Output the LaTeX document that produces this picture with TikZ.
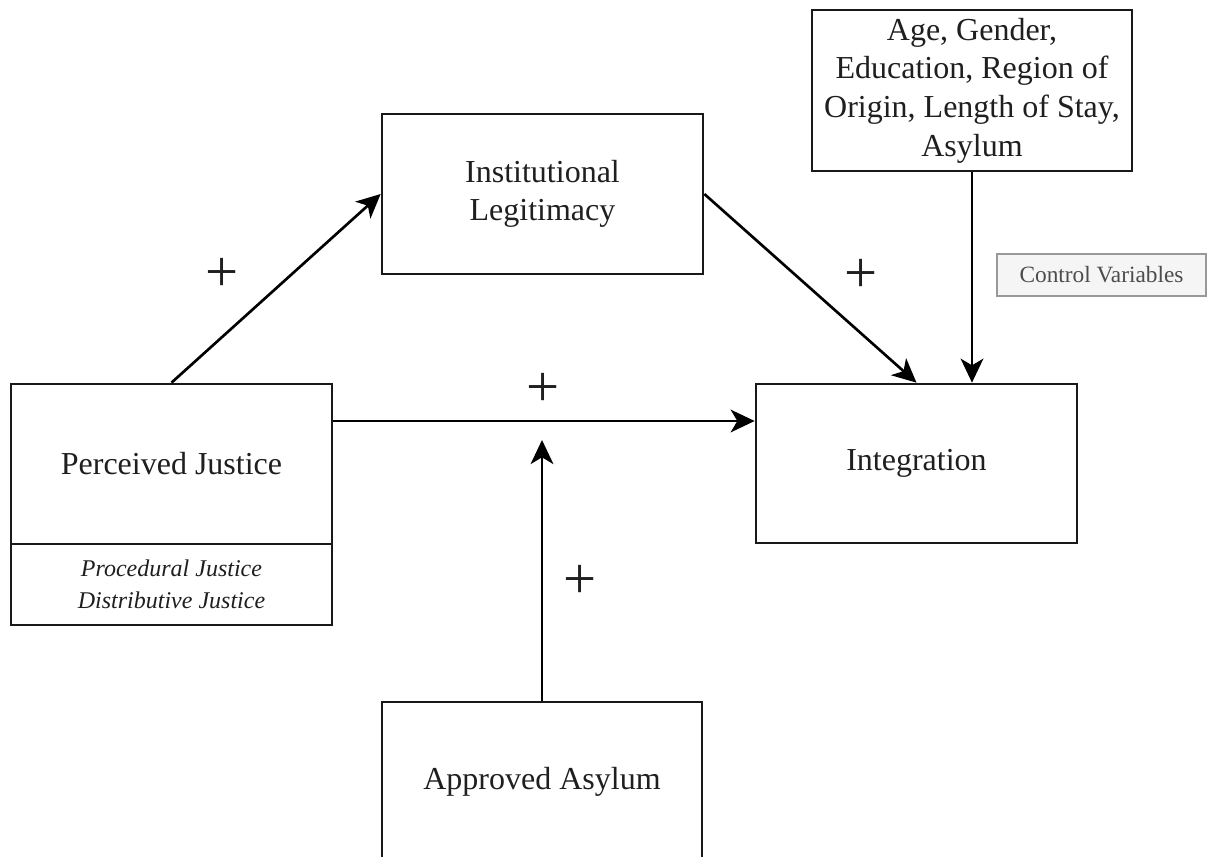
\documentclass[tikz,border=0pt]{standalone}
\usepackage{fontspec}
\setmainfont{Liberation Serif}
\usetikzlibrary{arrows.meta,calc}
\begin{document}
\begin{tikzpicture}[x=0.75pt,y=-0.75pt,
  box/.style={draw=black!90, line width=2pt, fill=white, inner sep=0pt, align=center,
              font=\fontsize{24}{29}\selectfont, text=black!88},
  arr/.style={line width=2pt, draw=black, -{Stealth[length=18pt,width=17pt,inset=5pt]}},
  sign/.style={font=\fontsize{44}{44}\selectfont, inner sep=0pt, text=black!88}]
\useasboundingbox (0,0) rectangle (1208,857);
\clip (0,0) rectangle (1208,857);
% boxes
\node[box, minimum width=240.75pt, minimum height=120pt] (il) at (542.5,194) {Institutional\\Legitimacy};
\node[box, minimum width=240pt, minimum height=120.75pt] (ctrl) at (972,90.5) {Age, Gender,\\Education, Region of\\Origin, Length of Stay,\\Asylum};
\node[box, minimum width=240.75pt, minimum height=120pt] (pj) at (171.5,464) {Perceived Justice};
\node[box, minimum width=240.75pt, minimum height=60.75pt, font=\fontsize{18}{24}\selectfont\itshape] (pjsub) at (171.5,584.5) {Procedural Justice\\Distributive Justice};
\node[box, minimum width=240.75pt, minimum height=119.25pt] (int) at (916.5,463.5) {Integration};
\node[box, minimum width=240pt, minimum height=120pt] (aa) at (542,782) {Approved Asylum};
\node[draw=gray!80, line width=1.6pt, fill=gray!8, minimum width=156.75pt, minimum height=31.5pt, inner sep=0pt,
      font=\fontsize{17.5}{20}\selectfont, text=black!70] (cv) at (1101.5,275) {Control Variables};
% connectors
\draw[arr] (pj.north) -- (il.west);
\draw[arr] (il.east) -- (int.north);
\draw[arr] (ctrl.south) -- (ctrl.south |- int.north);
\draw[arr] ([yshift=32.25pt]pj.east) coordinate (hs) -- (hs -| int.west);
\coordinate (aatip) at (542,440);
\draw[arr] (aa.north) -- (aatip);
% signs
\node[sign] (p1) at (222,275) {+};
\node[sign] (p2) at (861,276) {+};
\node[sign] (p3) at (543,390) {+};
\node[sign] (p4) at (580,582) {+};
\end{tikzpicture}
\end{document}
